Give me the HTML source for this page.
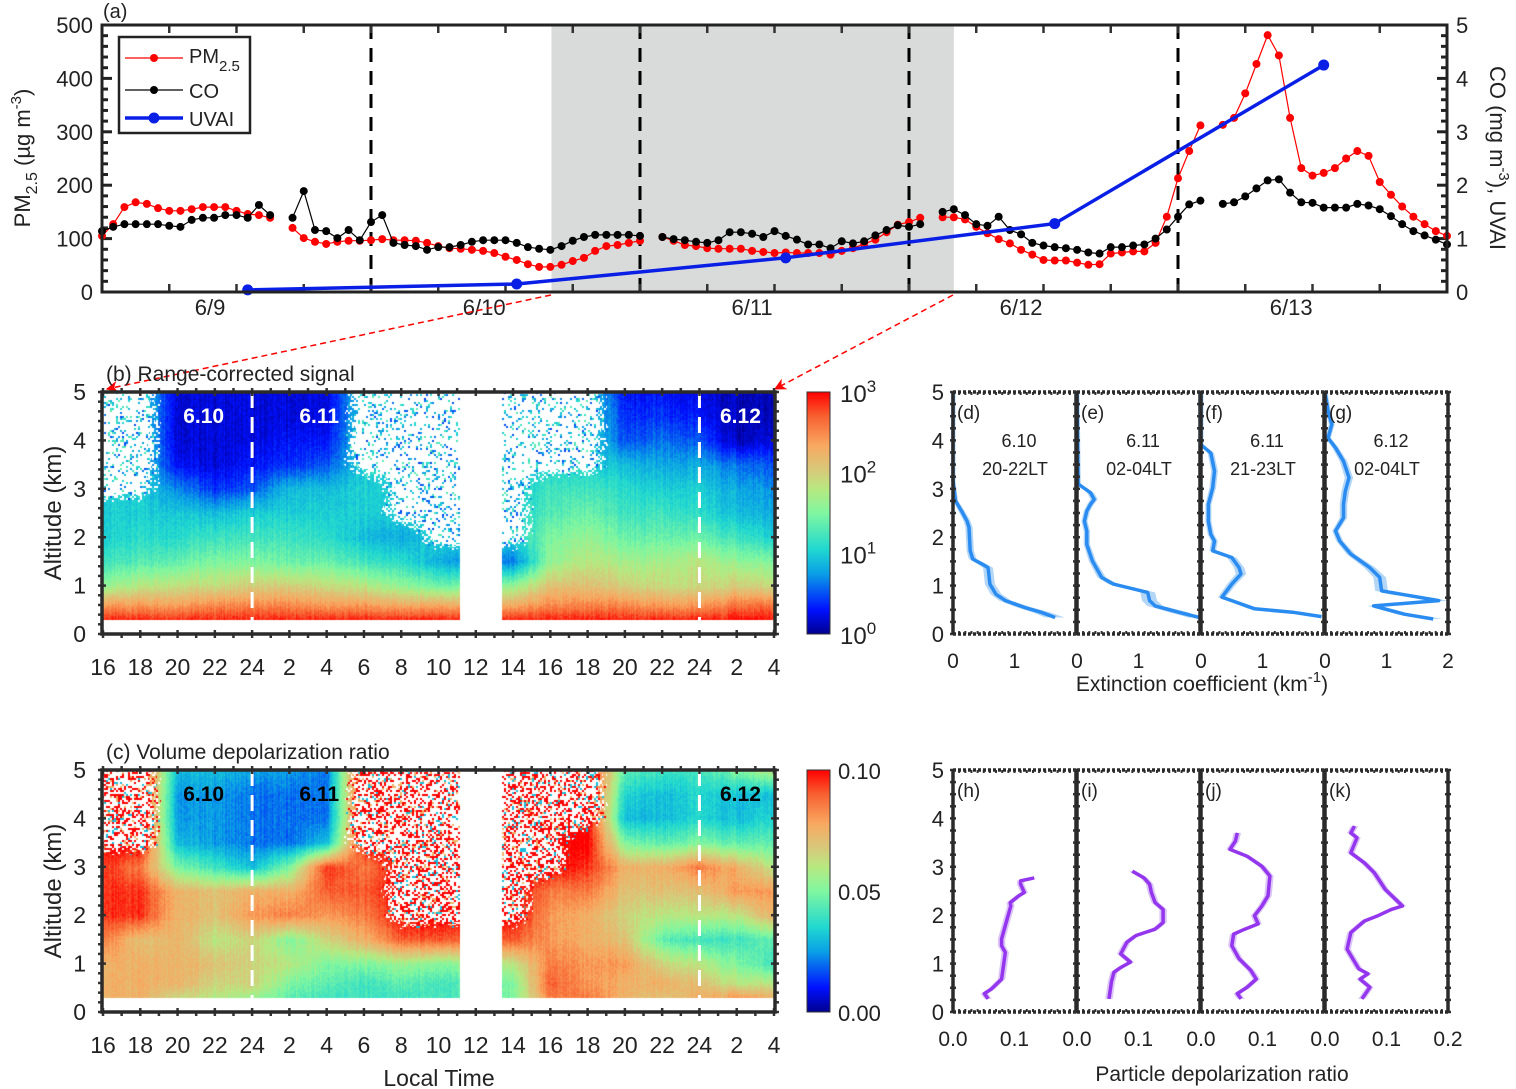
<!DOCTYPE html>
<html><head><meta charset="utf-8"><style>
body{margin:0;background:#fff;}
#wrap{position:relative;width:1516px;height:1089px;overflow:hidden;font-family:"Liberation Sans",sans-serif;}
canvas{position:absolute;}
svg{position:absolute;left:0;top:0;}
</style></head><body>
<div id="wrap">
<canvas id="cvB" width="673" height="242" style="left:102px;top:392px"></canvas>
<canvas id="cvC" width="673" height="242" style="left:102px;top:770px"></canvas>
<svg id="svg" width="1516" height="1089" xmlns="http://www.w3.org/2000/svg">
<defs>
<linearGradient id="cmap" x1="0" y1="1" x2="0" y2="0">
<stop offset="0" stop-color="#000090"/><stop offset="0.1" stop-color="#0010ff"/><stop offset="0.25" stop-color="#0aa0e6"/><stop offset="0.35" stop-color="#20d8d0"/><stop offset="0.5" stop-color="#80f7a0"/><stop offset="0.6" stop-color="#b8e880"/><stop offset="0.68" stop-color="#d8c87a"/><stop offset="0.78" stop-color="#f8a860"/><stop offset="0.9" stop-color="#f86030"/><stop offset="1" stop-color="#ff0000"/>
</linearGradient>
<marker id="arr" viewBox="0 0 10 10" refX="9" refY="5" markerWidth="8" markerHeight="8" orient="auto"><path d="M0,0 L10,5 L0,10 L3,5 z" fill="#ff0000"/></marker>
</defs>
<g id="gA"></g>
<g id="gB"></g>
<g id="gC"></g>
<g id="gP"></g>
</svg>
</div>
<script>
// ===== Panel (a) data (hourly, hours from axis start) =====
const pm25 = [105,127,159,168,165,157,152,152,155,159,159,159,152,146,144,139,null,
120,101,94,90,94,96,96,97,99,97,97,96,92,86,82,81,79,77,73,66,60,52,47,47,51,58,64,77,86,88,92,96,null,
103,96,88,86,82,81,81,81,77,75,73,74,
73,73,73,70,77,82,90,98,112,126,131,139,null,
140,140,136,122,110,99,91,79,70,60,59,59,55,51,52,72,74,76,76,92,141,213,264,312,null,
313,326,372,427,481,443,326,232,218,223,232,250,264,255,206,182,160,141,127,114,105];
const co = [1.14,1.22,1.27,1.27,1.27,1.27,1.24,1.22,1.35,1.39,1.39,1.44,1.44,1.39,1.63,1.44,null,
1.39,1.89,1.16,1.14,1.01,1.16,0.97,1.31,1.44,0.92,0.88,0.86,0.79,0.84,0.84,0.88,0.94,0.97,0.97,0.97,0.92,0.84,0.81,0.79,0.86,0.96,1.03,1.07,1.07,1.07,1.07,1.05,null,
1.03,0.99,0.97,0.94,0.92,0.97,1.12,1.12,1.09,1.03,1.14,1.05,
0.98,0.89,0.89,0.82,0.95,0.91,0.95,1.06,1.16,1.25,1.22,1.27,null,
1.50,1.55,1.44,1.27,1.24,1.41,1.16,1.08,0.92,0.87,0.84,0.82,0.79,0.74,0.72,0.84,0.84,0.87,0.89,1.00,1.17,1.41,1.64,1.71,null,
1.65,1.68,1.79,1.94,2.09,2.11,1.86,1.68,1.67,1.58,1.58,1.58,1.65,1.62,1.55,1.42,1.27,1.14,1.06,0.98,0.89];
const uvaiHours = [13,37,61,85,109];
const uvai = [0.04,0.15,0.64,1.28,4.25];
const dayLines = [24,48,72,96];
const shadeRange = [40.1,76];
const dateLabels = ['6/9','6/10','6/11','6/12','6/13'];
const dateLabelHours = [9.64,34.1,58.0,82.0,106.1];
const pmTicks = [0,100,200,300,400,500];
const coTicks = [0,1,2,3,4,5];

// ===== Panels (b),(c) gridded values (time cols every 2 h from 16 LT; altitude rows) =====
const gridT = [0,2,4,6,8,10,12,14,16,18,20,22,24,26,28,30,32,34,36];
const gridAlt = [0.3,0.6,1.0,1.5,2.0,2.5,3.0,3.5,4.0,4.5,5.0];
const rcs = [
[2.9,2.4,1.6,1.2,1.0,1.0,-1,-1,-1,-1,-1],
[2.9,2.4,1.8,1.3,1.1,1.0,-1,-1,-1,-1,-1],
[2.9,2.4,1.9,1.4,1.1,1.0,0.7,0.3,0.2,0.2,0.2],
[2.9,2.5,1.9,1.5,1.2,0.9,0.4,0.2,0.2,0.2,0.2],
[2.9,2.5,2.0,1.5,1.2,1.0,0.5,0.3,0.2,0.2,0.2],
[2.9,2.5,2.0,1.4,1.2,1.0,0.9,0.4,0.3,0.2,0.2],
[2.9,2.4,1.9,1.4,1.1,1.0,0.9,0.5,0.3,0.2,0.2],
[2.9,2.4,1.8,1.2,0.9,1.0,1.0,-1,-1,-1,-1],
[2.9,2.3,1.6,1.1,0.8,-1,-1,-1,-1,-1,-1],
[2.9,2.3,1.4,0.8,-1,-1,-1,-1,-1,-1,-1],
[2.9,2.3,1.5,0.7,-1,-1,-1,-1,-1,-1,-1],
[2.9,2.3,1.6,0.6,-1,-1,-1,-1,-1,-1,-1],
[2.9,2.5,2.1,1.6,1.5,1.3,1.2,-1,-1,-1,-1],
[2.9,2.5,2.1,1.8,1.6,1.4,1.2,-1,-1,-1,-1],
[2.9,2.5,2.0,1.7,1.4,1.2,1.1,0.9,0.5,0.4,0.3],
[2.9,2.4,1.9,1.7,1.4,1.2,1.0,0.8,0.6,0.4,0.3],
[2.9,2.4,1.9,1.8,1.4,1.1,1.0,0.8,0.5,0.3,0.2],
[2.95,2.6,2.0,1.6,1.2,0.9,0.8,0.6,0.1,0.1,0.1],
[2.95,2.6,1.9,1.5,1.0,0.8,0.7,0.5,0.2,0.1,0.1]];
const vdr = [
[0.075,0.075,0.075,0.085,0.095,0.095,0.095,-1,-1,-1,-1],
[0.075,0.075,0.075,0.07,0.095,0.095,0.085,-1,-1,-1,-1],
[0.065,0.075,0.075,0.075,0.075,0.075,0.05,0.03,0.025,0.025,0.03],
[0.06,0.065,0.07,0.06,0.07,0.07,0.04,0.025,0.025,0.025,0.03],
[0.055,0.065,0.065,0.065,0.08,0.075,0.03,0.02,0.02,0.02,0.025],
[0.045,0.05,0.06,0.05,0.085,0.075,0.05,0.02,0.02,0.02,0.025],
[0.04,0.045,0.05,0.065,0.08,0.09,0.095,0.03,0.02,0.02,0.02],
[0.04,0.04,0.05,0.075,0.085,0.09,0.085,-1,-1,-1,-1],
[0.04,0.045,0.055,0.09,-1,-1,-1,-1,-1,-1,-1],
[0.04,0.04,0.05,0.09,-1,-1,-1,-1,-1,-1,-1],
[0.045,0.045,0.055,0.09,-1,-1,-1,-1,-1,-1,-1],
[0.05,0.05,0.06,0.09,-1,-1,-1,-1,-1,-1,-1],
[0.085,0.09,0.085,0.08,0.08,0.085,-1,-1,-1,-1,-1],
[0.085,0.08,0.08,0.075,0.075,0.085,0.095,0.1,-1,-1,-1],
[0.075,0.075,0.08,0.07,0.065,0.07,0.075,0.05,0.03,0.035,0.045],
[0.07,0.075,0.065,0.045,0.06,0.07,0.075,0.045,0.03,0.03,0.04],
[0.075,0.07,0.06,0.04,0.06,0.07,0.085,0.05,0.035,0.035,0.04],
[0.08,0.06,0.05,0.04,0.06,0.08,0.075,0.045,0.03,0.03,0.05],
[0.075,0.06,0.04,0.045,0.075,0.08,0.06,0.045,0.035,0.03,0.06]];
const timeTickLabels = ['16','18','20','22','24','2','4','6','8','10','12','14','16','18','20','22','24','2','4'];
const dataSegments = [[0,19.15],[21.4,36]];

// ===== Profiles =====
const extAlt = [
[5,3.16,2.75,2.54,2.33,2.2,1.72,1.55,1.44,1.37,1.03,0.82,0.69,0.55,0.45,0.34],
[5,3.1,2.92,2.78,2.68,2.54,2.33,2.13,1.85,1.51,1.17,1.03,0.86,0.69,0.58,0.45,0.34],
[5,3.91,3.74,3.37,3.02,2.68,2.33,2.06,1.92,1.72,1.58,1.37,1.24,1.03,0.76,0.69,0.52,0.45,0.36],
[5,4.6,4.33,4.05,3.85,3.57,3.23,2.95,2.68,2.4,2.13,1.92,1.65,1.37,1.17,0.89,0.69,0.58,0.41,0.31]];
const extVal = [
[0,0,0.04,0.14,0.23,0.26,0.28,0.32,0.48,0.57,0.60,0.70,0.85,1.16,1.43,1.66],
[0,0.02,0.22,0.28,0.22,0.16,0.12,0.16,0.16,0.25,0.40,0.59,1.15,1.18,1.27,1.65,1.99],
[0,0,0.16,0.22,0.19,0.12,0.12,0.16,0.22,0.19,0.50,0.62,0.65,0.50,0.34,0.50,0.87,1.49,1.96],
[0,0.05,0.11,0.05,0.17,0.30,0.39,0.33,0.30,0.30,0.17,0.24,0.42,0.73,0.89,0.92,1.85,0.79,1.29,1.76]];
const pdrAlt = [
[0.27,0.38,0.48,0.68,1.23,1.37,1.51,1.92,2.19,2.26,2.40,2.47,2.64,2.71,2.77],
[0.27,0.62,0.82,0.92,1.03,1.20,1.44,1.58,1.71,1.85,2.12,2.26,2.47,2.64,2.77,2.91],
[0.27,0.38,0.51,0.68,0.86,1.10,1.37,1.61,1.71,1.82,1.99,2.19,2.40,2.81,3.01,3.22,3.36,3.53,3.70],
[0.27,0.51,0.68,0.79,0.89,1.30,1.64,1.88,1.99,2.12,2.19,2.53,2.88,3.08,3.29,3.60,3.70,3.84]];
const pdrVal = [
[0.057,0.051,0.063,0.079,0.085,0.079,0.079,0.088,0.094,0.093,0.107,0.116,0.110,0.110,0.132],
[0.052,0.056,0.060,0.071,0.087,0.071,0.081,0.096,0.127,0.140,0.140,0.127,0.121,0.118,0.109,0.090],
[0.065,0.059,0.075,0.090,0.081,0.062,0.050,0.053,0.071,0.093,0.087,0.099,0.109,0.112,0.099,0.075,0.047,0.056,0.059],
[0.060,0.073,0.057,0.070,0.055,0.036,0.042,0.064,0.086,0.108,0.126,0.098,0.080,0.064,0.042,0.052,0.042,0.048]];
const extLetters = ['(d)','(e)','(f)','(g)'];
const extDates = ['6.10','6.11','6.11','6.12'];
const extTimes = ['20-22LT','02-04LT','21-23LT','02-04LT'];
const pdrLetters = ['(h)','(i)','(j)','(k)'];

// ===== helpers =====
const NS='http://www.w3.org/2000/svg';
function mk(tag, attrs, parent){const e=document.createElementNS(NS,tag);for(const k in attrs)e.setAttribute(k,attrs[k]);parent.appendChild(e);return e;}
function txt(str, attrs, parent){const e=mk('text',attrs,parent);e.textContent=str;return e;}
const FONT='"Liberation Sans", sans-serif';

// ===== Panel (a) =====
const gA=document.getElementById('gA');
const aL=102,aR=1447,aT=25,aB=292;
const xA=h=>aL+h*(aR-aL)/120;
const yPM=v=>aB-v*(aB-aT)/500;
const yCO=v=>aB-v*(aB-aT)/5;
let e;
e=mk('rect',{x:xA(shadeRange[0]),y:aT,width:xA(shadeRange[1])-xA(shadeRange[0]),height:aB-aT,fill:'#d9dada'},gA);


dayLines.forEach(h=>{
  const l=mk('line',{x1:xA(h),x2:xA(h),y1:aT,y2:aB,stroke:'#000','stroke-width':3,'stroke-dasharray':'14,9'},gA);
  
  
});
for(let v=0;v<=500;v+=20){const len=v%100===0?10:6;const t=mk('line',{x1:aL,x2:aL+len,y1:yPM(v),y2:yPM(v),stroke:'#222','stroke-width':3},gA);}
for(let v=0;v<=5.001;v+=0.2){const len=Math.abs(v-Math.round(v))<0.01?10:6;const t=mk('line',{x1:aR-len,x2:aR,y1:yCO(v),y2:yCO(v),stroke:'#222','stroke-width':3},gA);}
for(let h=6;h<120;h+=6){[aB,aT].forEach(y0=>{const t=mk('line',{x1:xA(h),x2:xA(h),y1:y0,y2:y0===aB?y0-8:y0+8,stroke:'#333','stroke-width':2.5},gA);});}
pmTicks.forEach(v=>{const t=txt(String(v),{x:93,y:yPM(v)+8,'text-anchor':'end','font-size':22,'font-family':FONT,fill:'#222'},gA);});
coTicks.forEach(v=>{const t=txt(String(v),{x:1456,y:yCO(v)+8,'font-size':22,'font-family':FONT,fill:'#222'},gA);});
dateLabels.forEach((s,i)=>{const t=txt(s,{x:xA(dateLabelHours[i]),y:315,'text-anchor':'middle','font-size':22,'font-family':FONT,fill:'#222'},gA);});
function drawSeries(arr, yf, color, name){
  let d='';let pen=false;
  arr.forEach((v,i)=>{if(v===null){pen=false;return;}d+=(pen?'L':'M')+xA(i).toFixed(1)+','+yf(v).toFixed(1);pen=true;});
  const p=mk('path',{d:d,fill:'none',stroke:color,'stroke-width':1.2},gA);
  
  
  arr.forEach((v,i)=>{if(v===null)return;
    const c=mk('circle',{cx:xA(i),cy:yf(v),r:4,fill:color},gA);
    
    });
}
drawSeries(pm25,yPM,'#ff0000','pm25');
drawSeries(co,yCO,'#000000','co');
{
  let d='';uvai.forEach((v,i)=>{d+=(i?'L':'M')+xA(uvaiHours[i]).toFixed(1)+','+yCO(v).toFixed(1);});
  const p=mk('path',{d:d,fill:'none',stroke:'#0a1fe6','stroke-width':3.5},gA);
  
  
  uvai.forEach((v,i)=>{const c=mk('circle',{cx:xA(uvaiHours[i]),cy:yCO(v),r:5.5,fill:'#0a1fe6'},gA);
    
    });
}
e=mk('rect',{x:aL,y:aT,width:aR-aL,height:aB-aT,fill:'none',stroke:'#222','stroke-width':3},gA);


e=txt('(a)',{x:103,y:18,'font-size':20,'font-family':FONT,fill:'#222'},gA);


const lg=mk('g',{},gA);


mk('rect',{x:119,y:37,width:131,height:96,fill:'#fff',stroke:'#222','stroke-width':2.5},lg);
mk('line',{x1:125,x2:183,y1:58,y2:58,stroke:'#f00','stroke-width':1.2},lg);mk('circle',{cx:154,cy:58,r:4,fill:'#f00'},lg);
mk('line',{x1:125,x2:183,y1:90,y2:90,stroke:'#000','stroke-width':1.2},lg);mk('circle',{cx:154,cy:90,r:4,fill:'#000'},lg);
mk('line',{x1:125,x2:183,y1:118,y2:118,stroke:'#0a1fe6','stroke-width':3.5},lg);mk('circle',{cx:154,cy:118,r:5.5,fill:'#0a1fe6'},lg);
e=txt('',{x:189,y:63,'font-size':20,'font-family':FONT,fill:'#222'},lg);
e.innerHTML='PM<tspan dy="8" font-size="15">2.5</tspan>';


e=txt('CO',{x:189,y:98,'font-size':20,'font-family':FONT,fill:'#222'},lg);


e=txt('UVAI',{x:189,y:126,'font-size':20,'font-family':FONT,fill:'#222'},lg);


e=txt('',{x:0,y:0,'font-size':22,'font-family':FONT,fill:'#222','text-anchor':'middle',transform:'translate(30,158) rotate(-90)'},gA);
e.innerHTML='PM<tspan dy="7" font-size="16">2.5</tspan><tspan dy="-7"> (µg m</tspan><tspan dy="-9" font-size="15">-3</tspan><tspan dy="9">)</tspan>';


e=txt('',{x:0,y:0,'font-size':22,'font-family':FONT,fill:'#222','text-anchor':'middle',transform:'translate(1490,158) rotate(90)'},gA);
e.innerHTML='CO (mg m<tspan dy="-9" font-size="15">-3</tspan><tspan dy="9">), UVAI</tspan>';


e=mk('line',{x1:551,y1:295,x2:107,y2:389,stroke:'#f00','stroke-width':1.5,'stroke-dasharray':'6,4','marker-end':'url(#arr)'},gA);


e=mk('line',{x1:953,y1:295,x2:775,y2:389,stroke:'#f00','stroke-width':1.5,'stroke-dasharray':'6,4','marker-end':'url(#arr)'},gA);



// ===== Heatmaps =====
const hL=102,hR=775,tScale=(hR-hL-2)/36;
function cmapRGB(v){
  const st=[[0,[0,0,144]],[0.1,[0,16,255]],[0.25,[10,160,230]],[0.35,[32,216,208]],[0.5,[128,247,160]],[0.6,[184,232,128]],[0.68,[216,200,122]],[0.78,[248,168,96]],[0.9,[248,96,48]],[1,[255,0,0]]];
  v=Math.max(0,Math.min(1,v));
  for(let i=1;i<st.length;i++){if(v<=st[i][0]){const f=(v-st[i-1][0])/(st[i][0]-st[i-1][0]);const a=st[i-1][1],b=st[i][1];return [a[0]+(b[0]-a[0])*f,a[1]+(b[1]-a[1])*f,a[2]+(b[2]-a[2])*f];}}
  return st[st.length-1][1];
}
function hash(i,j){const s=Math.sin(i*12.9898+j*78.233)*43758.5453;return s-Math.floor(s);}
function interp(grid,t,alt,fill){
  let i=0;while(i<gridT.length-2&&t>gridT[i+1])i++;
  let j=0;while(j<gridAlt.length-2&&alt>gridAlt[j+1])j++;
  const ft=Math.max(0,Math.min(1,(t-gridT[i])/(gridT[i+1]-gridT[i])));
  const fa=Math.max(0,Math.min(1,(alt-gridAlt[j])/(gridAlt[j+1]-gridAlt[j])));
  let val=0,m=0;
  [[i,j,(1-ft)*(1-fa)],[i+1,j,ft*(1-fa)],[i,j+1,(1-ft)*fa],[i+1,j+1,ft*fa]].forEach(([a,b,w])=>{const g=grid[a][b];if(g<0){m+=w;val+=w*fill;}else val+=w*g;});
  return [val,m];
}
function renderHeat(id,grid,vmax,fill,speckleFn){
  const cv=document.getElementById(id);const ctx=cv.getContext('2d');
  const W=cv.width,H=cv.height;const img=ctx.createImageData(W,H);
  for(let py=0;py<H;py++){
    const alt=(H-py)*5/H;
    for(let px=0;px<W;px++){
      const k=(py*W+px)*4;
      const t=(px-1)/tScale;
      const inData=alt>=0.3&&dataSegments.some(s=>t>=s[0]&&t<=s[1]);
      let r=255,g=255,b=255;
      if(inData){
        const [val,m]=interp(grid,t,alt,fill);
        const bx=Math.floor(px/2),by=Math.floor(py/2);
        const hs=hash(bx,by);
        if(m>0.45&&hash(bx+7,by*3+1)<Math.min(1,(m-0.45)*2.5)){
          const c=speckleFn(hs,hash(bx*5+3,by+11));
          if(c){r=c[0];g=c[1];b=c[2];}
        }else{
          const streak=(hash(px,0)-0.5)*0.05*vmax+(hs-0.5)*0.04*vmax;
          const c=cmapRGB((val+streak)/vmax);r=c[0];g=c[1];b=c[2];
        }
      }
      img.data[k]=r;img.data[k+1]=g;img.data[k+2]=b;img.data[k+3]=255;
    }
  }
  ctx.putImageData(img,0,0);
}
renderHeat('cvB',rcs,3,1.0,(h1,h2)=>h1<0.2?cmapRGB(0.15+h2*0.3):null);
renderHeat('cvC',vdr,0.1,0.1,(h1,h2)=>h1<0.45?(h2<0.7?cmapRGB(1):(h2<0.85?cmapRGB(0.75):cmapRGB(0.3))):null);

function heatFrame(g,top,title,labelColor,name){
  const yH=a=>top+242-a*242/5;
  const xT=t=>hL+1+t*tScale;
  [8,32].forEach(t=>{const l=mk('line',{x1:xT(t),x2:xT(t),y1:top,y2:top+242,stroke:'#fff','stroke-width':3,'stroke-dasharray':'16,9'},g);});
  [['6.10',8-2.6],['6.11',8+3.6],['6.12',32+2.2]].forEach(([s,t])=>{const l=txt(s,{x:xT(t),y:top+31,'text-anchor':'middle','font-size':21,'font-weight':'bold','font-family':FONT,fill:labelColor},g);});
  for(let t=0;t<=36;t++){const len=t%2===0?8:5;[top+242,top].forEach(y0=>{const l=mk('line',{x1:xT(t),x2:xT(t),y1:y0===top?y0-4:y0+4,y2:y0===top?y0+len-4:y0-len+4,stroke:'#333','stroke-width':2.5},g);});}
  for(let a=0;a<=5.001;a+=0.2){const len=Math.abs(a-Math.round(a))<0.01?8:5;[hL,hR].forEach(x0=>{const l=mk('line',{x1:x0===hL?x0-4:x0+4,x2:x0===hL?x0+len-4:x0-len+4,y1:yH(a),y2:yH(a),stroke:'#333','stroke-width':2.5},g);});}
  const fr=mk('rect',{x:hL,y:top,width:hR-hL,height:242,fill:'none',stroke:'#2a2a2a','stroke-width':3.5},g);
  
  
  for(let a=0;a<=5;a++){const l=txt(String(a),{x:86,y:yH(a)+8,'text-anchor':'end','font-size':23,'font-family':FONT,fill:'#222'},g);}
  timeTickLabels.forEach((s,i)=>{const l=txt(s,{x:xT(gridT[i]),y:top+283,'text-anchor':'middle','font-size':23,'font-family':FONT,fill:'#222'},g);});
  const yl=txt('Altitude (km)',{x:0,y:0,transform:'translate(61,'+(top+121)+') rotate(-90)','text-anchor':'middle','font-size':24,'font-family':FONT,fill:'#222'},g);
  
  
  const tl=txt(title,{x:106,y:top-11,'font-size':21,'font-family':FONT,fill:'#222'},g);
  
  
  const cb=mk('rect',{x:807,y:top,width:23,height:242,fill:'url(#cmap)',stroke:'#333','stroke-width':1},g);
  
  
  return yH;
}
const gB=document.getElementById('gB');
heatFrame(gB,392,'(b) Range-corrected signal','#ffffff','panel-b');
[3,2,1,0].forEach((p,i)=>{const l=txt('',{x:840,y:392+i*80.7+10,'font-size':24,'font-family':FONT,fill:'#222'},gB);l.innerHTML='10<tspan dy="-10" font-size="17">'+p+'</tspan>';});
const gC=document.getElementById('gC');
heatFrame(gC,770,'(c) Volume depolarization ratio','#000000','panel-c');
['0.10','0.05','0.00'].forEach((s,i)=>{const l=txt(s,{x:838,y:770+i*121+9,'font-size':22,'font-family':FONT,fill:'#222'},gC);});
e=txt('Local Time',{x:439,y:1086,'text-anchor':'middle','font-size':23,'font-family':FONT,fill:'#222'},gC);



// ===== Profiles =====
const gP=document.getElementById('gP');
const pLefts=[953,1077,1201,1325],pW=123;
function profPanel(top,idx,alts,vals,xmax,color,shade,errFn,letter,name){
  const x0=pLefts[idx];
  const xV=v=>x0+Math.max(0,Math.min(pW,v*pW/xmax));
  const yV=a=>top+242-a*242/5;
  const g=mk('g',{},gP);
  
  
  let up='',dn='';
  alts.forEach((a,i)=>{up+=(i?'L':'M')+xV(vals[i]-errFn(vals[i])).toFixed(1)+','+yV(a).toFixed(1);});
  for(let i=alts.length-1;i>=0;i--){dn+='L'+xV(vals[i]+errFn(vals[i])).toFixed(1)+','+yV(alts[i]).toFixed(1);}
  const band=mk('path',{d:up+dn+'Z',fill:shade,stroke:'none'},g);
  
  
  let d='';alts.forEach((a,i)=>{d+=(i?'L':'M')+xV(vals[i]).toFixed(1)+','+yV(a).toFixed(1);});
  const ln=mk('path',{d:d,fill:'none',stroke:color,'stroke-width':3.5,'stroke-linejoin':'round'},g);
  
  
  for(let k=1;k<20;k++){[top,top+242].forEach(y0=>{const t=mk('line',{x1:x0+k*pW/20,x2:x0+k*pW/20,y1:y0,y2:y0===top?y0+3:y0-3,stroke:'#333','stroke-width':2},g);});}
  for(let a=0;a<=5.001;a+=0.25){[x0,x0+pW].forEach(xx=>{const t=mk('line',{x1:xx-3,x2:xx+3,y1:yV(a),y2:yV(a),stroke:'#333','stroke-width':2.5},g);});}
  [x0,x0+pW].forEach(xx=>{const s=mk('line',{x1:xx,x2:xx,y1:top,y2:top+242,stroke:'#2a2a2a','stroke-width':3.5},g);});
  [top,top+242].forEach(yy=>{const s=mk('line',{x1:x0,x2:x0+pW,y1:yy,y2:yy,stroke:'#2a2a2a','stroke-width':3.5,'stroke-dasharray':'3,2'},g);});
  const lb=txt(letter,{x:x0+4,y:top+27,'font-size':19,'font-family':FONT,fill:'#222'},g);
  
  
  return g;
}
extAlt.forEach((a,i)=>{
  const g=profPanel(392,i,a,extVal[i],2,'#2a8cf0','#b3d6f7',v=>0.04+0.07*v,extLetters[i],'extinction-profile-'+(i+1));
  const t1=txt(extDates[i],{x:pLefts[i]+66,y:447,'text-anchor':'middle','font-size':18,'font-family':FONT,fill:'#222'},g);
  
  
  const t2=txt(extTimes[i],{x:pLefts[i]+62,y:475,'text-anchor':'middle','font-size':18,'font-family':FONT,fill:'#222'},g);
  
  
});
pdrAlt.forEach((a,i)=>{
  profPanel(770,i,a,pdrVal[i],0.2,'#9436ee','#dcc4f7',v=>0.006,pdrLetters[i],'depol-profile-'+(i+1));
});
[392,770].forEach(top=>{for(let a=0;a<=5;a++){const l=txt(String(a),{x:944,y:top+242-a*48.4+8,'text-anchor':'end','font-size':22,'font-family':FONT,fill:'#222'},gP);}});
pLefts.forEach((x0,i)=>{
  const l0=txt('0',{x:x0,y:668,'text-anchor':'middle','font-size':21,'font-family':FONT,fill:'#222'},gP);
  const l1=txt('1',{x:x0+pW/2,y:668,'text-anchor':'middle','font-size':21,'font-family':FONT,fill:'#222'},gP);
  const m0=txt('0.0',{x:x0,y:1046,'text-anchor':'middle','font-size':21,'font-family':FONT,fill:'#222'},gP);
  const m1=txt('0.1',{x:x0+pW/2,y:1046,'text-anchor':'middle','font-size':21,'font-family':FONT,fill:'#222'},gP);
});
e=txt('2',{x:1448,y:668,'text-anchor':'middle','font-size':21,'font-family':FONT,fill:'#222'},gP);


e=txt('0.2',{x:1448,y:1046,'text-anchor':'middle','font-size':21,'font-family':FONT,fill:'#222'},gP);


e=txt('',{x:1202,y:691,'text-anchor':'middle','font-size':21,'font-family':FONT,fill:'#222'},gP);
e.innerHTML='Extinction coefficient (km<tspan dy="-9" font-size="15">-1</tspan><tspan dy="9">)</tspan>';


e=txt('Particle depolarization ratio',{x:1222,y:1081,'text-anchor':'middle','font-size':21,'font-family':FONT,fill:'#222'},gP);


</script>
</body></html>
